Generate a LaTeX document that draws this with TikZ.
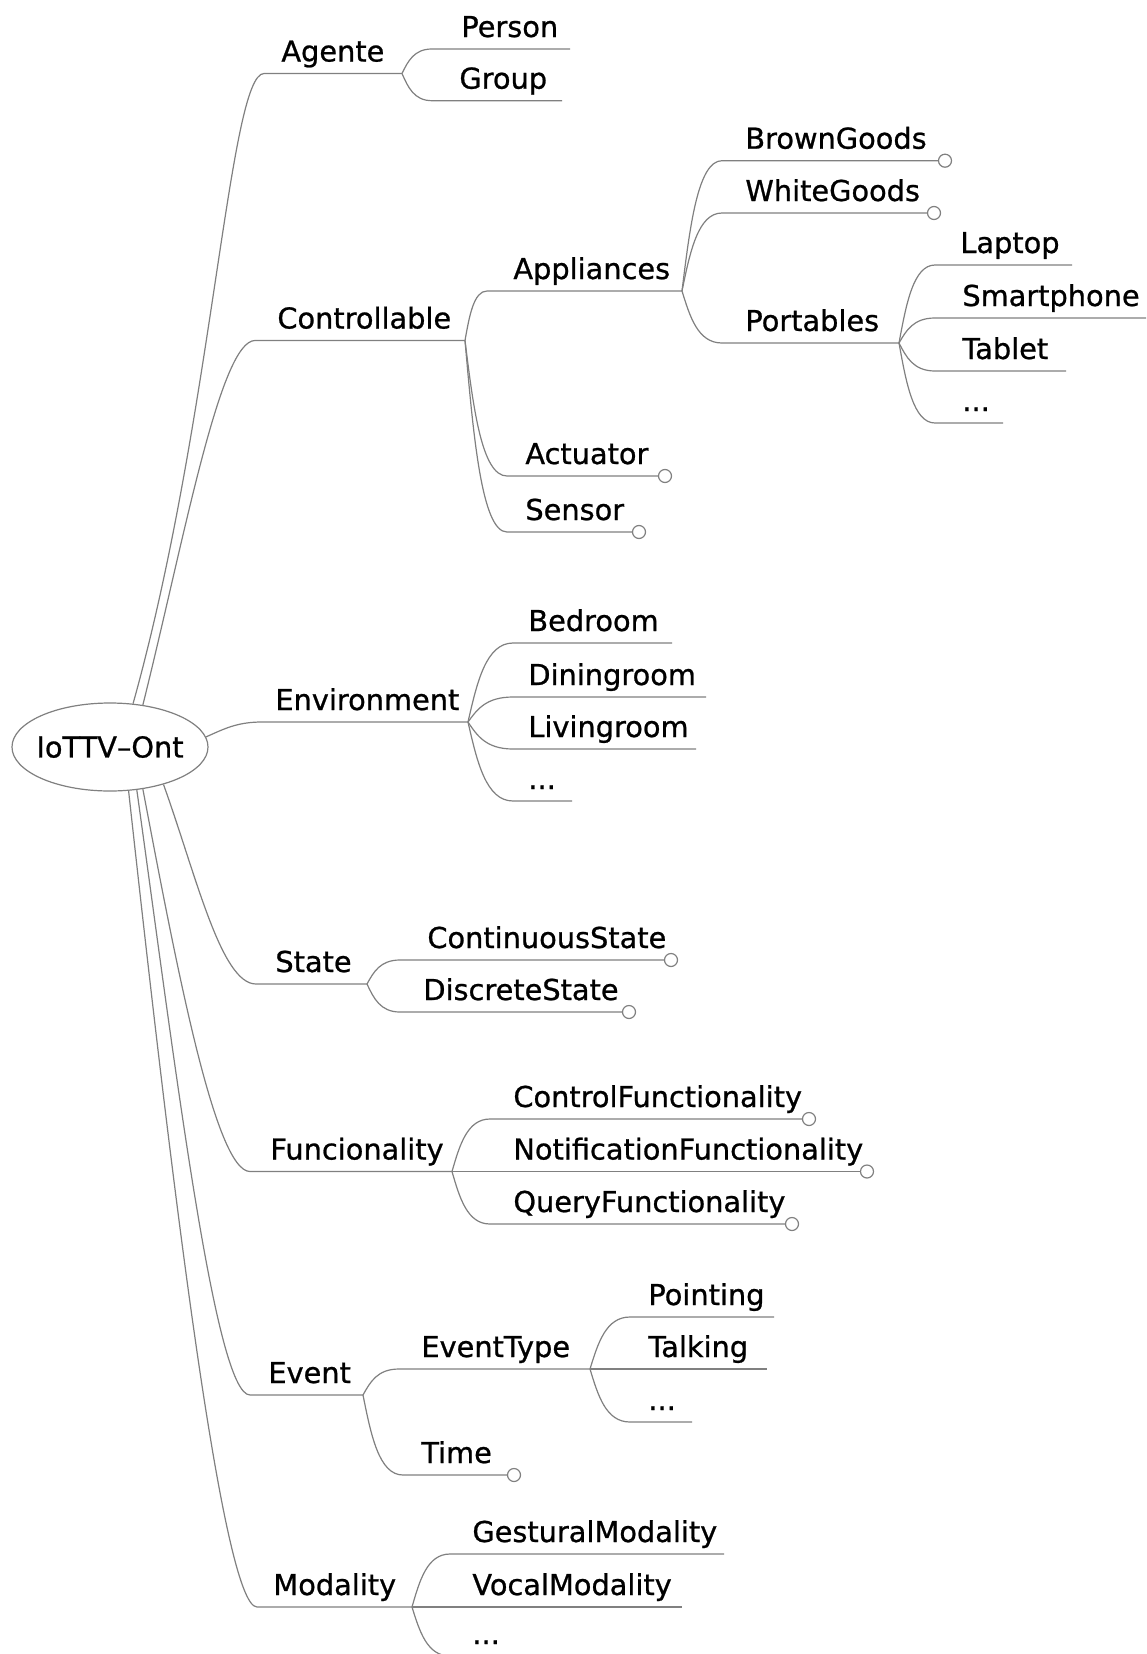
\documentclass[tikz,border=0pt]{standalone}
\usepackage{fontspec}
\setmainfont[FakeBold=0.8]{DejaVu Sans}
\usetikzlibrary{shapes.geometric}
\definecolor{linegray}{RGB}{128,128,128}
\begin{document}
\begin{tikzpicture}[x=0.5pt,y=-0.5pt,
  edge/.style={draw=linegray, line width=0.6pt},
  lbl/.style={anchor=base west, inner sep=0pt, font=\fontsize{14.4}{17}\selectfont},
  leaf/.style={circle, draw=linegray, fill=white, line width=0.6pt, minimum size=6.5pt, inner sep=0pt},
  rootnode/.style={ellipse, draw=linegray, line width=0.6pt, minimum width=98pt, minimum height=44pt, inner sep=0pt, font=\fontsize{14.4}{17}\selectfont}]
\clip (0,0) rectangle (1146,1654);
\fill[white] (0,0) rectangle (1146,1654);

% root
\node[rootnode] (root) at (110,747) {\makebox[0pt]{IoTTV–Ont}};

% ---------- Agente ----------
\coordinate (agS) at (264,73.5); \coordinate (agE) at (402,73.5);
\node[lbl] (ag) at (281,61.5) {Agente};
\draw[edge] (root.62) .. controls +(79.4,-283.7) and +(-35,0) .. (agS) -- (agE);
\coordinate (peS) at (432,49); \coordinate (peE) at (570,49);
\node[lbl] (pe) at (461,37) {Person};
\draw[edge] (agE) .. controls +(6,-12.25) and +(-18,0) .. (peS) -- (peE);
\coordinate (grS) at (432,100.7); \coordinate (grE) at (562,100.7);
\node[lbl] (gr) at (459,88.7) {Group};
\draw[edge] (agE) .. controls +(6,13.6) and +(-18,0) .. (grS) -- (grE);

% ---------- Controllable ----------
\coordinate (coS) at (255,340.5); \coordinate (coE) at (465,340.5);
\node[lbl] (co) at (277,328.5) {Controllable};
\draw[edge] (root.52) .. controls +(41,-164) and +(-35,0) .. (coS) -- (coE);
\coordinate (apS) at (487,291); \coordinate (apE) at (682,291);
\node[lbl] (ap) at (513,279) {Appliances};
\draw[edge] (coE) .. controls +(4.4,-24.75) and +(-13.2,0) .. (apS) -- (apE);
\coordinate (acS) at (507,476); \coordinate (acE) at (665,476);
\node[lbl] (ac) at (525,464) {Actuator};
\draw[edge] (coE) .. controls +(8.4,67.75) and +(-25.2,0) .. (acS) -- (acE);
\node[leaf] (acC) at (acE) {};
\coordinate (seS) at (507,532); \coordinate (seE) at (639,532);
\node[lbl] (se) at (525,520) {Sensor};
\draw[edge] (coE) .. controls +(8.4,95.75) and +(-25.2,0) .. (seS) -- (seE);
\node[leaf] (seC) at (seE) {};

% Appliances children
\coordinate (bgS) at (722,160.7); \coordinate (bgE) at (945,160.7);
\node[lbl] (bg) at (745,148.7) {BrownGoods};
\draw[edge] (apE) .. controls +(8,-65.15) and +(-24,0) .. (bgS) -- (bgE);
\node[leaf] (bgC) at (bgE) {};
\coordinate (wgS) at (722,213); \coordinate (wgE) at (934,213);
\node[lbl] (wg) at (745,201) {WhiteGoods};
\draw[edge] (apE) .. controls +(8,-39) and +(-24,0) .. (wgS) -- (wgE);
\node[leaf] (wgC) at (wgE) {};
\coordinate (poS) at (722,343); \coordinate (poE) at (899,343);
\node[lbl] (po) at (745,331) {Portables};
\draw[edge] (apE) .. controls +(8,26) and +(-24,0) .. (poS) -- (poE);

% Portables children
\coordinate (laS) at (935,265); \coordinate (laE) at (1072,265);
\node[lbl] (la) at (960,253) {Laptop};
\draw[edge] (poE) .. controls +(7.2,-39) and +(-21.6,0) .. (laS) -- (laE);
\coordinate (smS) at (935,318); \coordinate (smE) at (1150,318);
\node[lbl] (sm) at (962,306) {Smartphone};
\draw[edge] (poE) .. controls +(7.2,-12.5) and +(-21.6,0) .. (smS) -- (smE);
\coordinate (taS) at (935,371); \coordinate (taE) at (1066,371);
\node[lbl] (ta) at (962,359) {Tablet};
\draw[edge] (poE) .. controls +(7.2,14) and +(-21.6,0) .. (taS) -- (taE);
\coordinate (pdS) at (935,423); \coordinate (pdE) at (1003,423);
\node[lbl] (pd) at (962,411) {...};
\draw[edge] (poE) .. controls +(7.2,40) and +(-21.6,0) .. (pdS) -- (pdE);

% ---------- Environment ----------
\coordinate (enS) at (262,722); \coordinate (enE) at (468,722);
\node[lbl] (en) at (275,710) {Environment};
\draw[edge] (root.6) .. controls +(18,-8) and +(-25,0) .. (enS) -- (enE);
\coordinate (beS) at (513,643); \coordinate (beE) at (672,643);
\node[lbl] (be) at (528,631) {Bedroom};
\draw[edge] (enE) .. controls +(9,-39.5) and +(-27,0) .. (beS) -- (beE);
\coordinate (diS) at (513,697); \coordinate (diE) at (706,697);
\node[lbl] (di) at (528,685) {Diningroom};
\draw[edge] (enE) .. controls +(9,-12.5) and +(-27,0) .. (diS) -- (diE);
\coordinate (liS) at (513,749); \coordinate (liE) at (696,749);
\node[lbl] (li) at (528,737) {Livingroom};
\draw[edge] (enE) .. controls +(9,13.5) and +(-27,0) .. (liS) -- (liE);
\coordinate (edS) at (513,801); \coordinate (edE) at (572,801);
\node[lbl] (ed) at (528,789) {...};
\draw[edge] (enE) .. controls +(9,39.5) and +(-27,0) .. (edS) -- (edE);

% ---------- State ----------
\coordinate (stS) at (256,984); \coordinate (stE) at (367,984);
\node[lbl] (st) at (275,972) {State};
\draw[edge] (root.325) .. controls +(32.4,90) and +(-35,0) .. (stS) -- (stE);
\coordinate (csS) at (400,960); \coordinate (csE) at (671,960);
\node[lbl] (cs) at (427,948) {ContinuousState};
\draw[edge] (stE) .. controls +(6.6,-12) and +(-19.8,0) .. (csS) -- (csE);
\node[leaf] (csC) at (csE) {};
\coordinate (dsS) at (400,1012); \coordinate (dsE) at (629,1012);
\node[lbl] (ds) at (423,1000) {DiscreteState};
\draw[edge] (stE) .. controls +(6.6,14) and +(-19.8,0) .. (dsS) -- (dsE);
\node[leaf] (dsC) at (dsE) {};

% ---------- Funcionality ----------
\coordinate (fuS) at (250,1171.5); \coordinate (fuE) at (452,1171.5);
\node[lbl] (fu) at (270,1159.5) {Funcionality};
\draw[edge] (root.308) .. controls +(32.7,172) and +(-35,0) .. (fuS) -- (fuE);
\coordinate (cfS) at (490,1119); \coordinate (cfE) at (809,1119);
\node[lbl] (cf) at (513,1107) {ControlFunctionality};
\draw[edge] (fuE) .. controls +(7.6,-26.25) and +(-22.8,0) .. (cfS) -- (cfE);
\node[leaf] (cfC) at (cfE) {};
\coordinate (nfE) at (867,1171.5);
\node[lbl] (nf) at (513,1159.5) {NotificationFunctionality};
\draw[edge] (fuE) -- (nfE);
\node[leaf] (nfC) at (nfE) {};
\coordinate (qfS) at (490,1224); \coordinate (qfE) at (792,1224);
\node[lbl] (qf) at (513,1212) {QueryFunctionality};
\draw[edge] (fuE) .. controls +(7.6,26.25) and +(-22.8,0) .. (qfS) -- (qfE);
\node[leaf] (qfC) at (qfE) {};

% ---------- Event ----------
\coordinate (evS) at (250,1395); \coordinate (evE) at (363,1395);
\node[lbl] (ev) at (268,1383) {Event};
\draw[edge] (root.302) .. controls +(38,272.6) and +(-35,0) .. (evS) -- (evE);
\coordinate (etS) at (399,1369); \coordinate (etE) at (590,1369);
\node[lbl] (et) at (421,1357) {EventType};
\draw[edge] (evE) .. controls +(7.2,-13) and +(-21.6,0) .. (etS) -- (etE);
\coordinate (tiS) at (403,1475); \coordinate (tiE) at (514,1475);
\node[lbl] (ti) at (421,1463) {Time};
\draw[edge] (evE) .. controls +(8,40) and +(-24,0) .. (tiS) -- (tiE);
\node[leaf] (tiC) at (tiE) {};
\coordinate (ptS) at (630,1317); \coordinate (ptE) at (774,1317);
\node[lbl] (pt) at (648,1305) {Pointing};
\draw[edge] (etE) .. controls +(8,-26) and +(-24,0) .. (ptS) -- (ptE);
\coordinate (tkE) at (767,1369);
\node[lbl] (tk) at (648,1357) {Talking};
\draw[edge] (etE) -- (tkE);
\coordinate (xdS) at (630,1422); \coordinate (xdE) at (692,1422);
\node[lbl] (xd) at (648,1410) {...};
\draw[edge] (etE) .. controls +(8,26.5) and +(-24,0) .. (xdS) -- (xdE);

% ---------- Modality ----------
\coordinate (moS) at (257,1607); \coordinate (moE) at (412,1607);
\node[lbl] (mo) at (273,1595) {Modality};
\draw[edge] (root.293) .. controls +(40.4,367.5) and +(-35,0) .. (moS) -- (moE);
\coordinate (gmS) at (450,1554); \coordinate (gmE) at (724,1554);
\node[lbl] (gm) at (472,1542) {GesturalModality};
\draw[edge] (moE) .. controls +(7.6,-26.5) and +(-22.8,0) .. (gmS) -- (gmE);
\coordinate (vmE) at (682,1607);
\node[lbl] (vm) at (472,1595) {VocalModality};
\draw[edge] (moE) -- (vmE);
\coordinate (mdS) at (450,1656); \coordinate (mdE) at (540,1656);
\node[lbl] (md) at (472,1644) {...};
\draw[edge] (moE) .. controls +(7.6,24.5) and +(-22.8,0) .. (mdS) -- (mdE);
\end{tikzpicture}
\end{document}
